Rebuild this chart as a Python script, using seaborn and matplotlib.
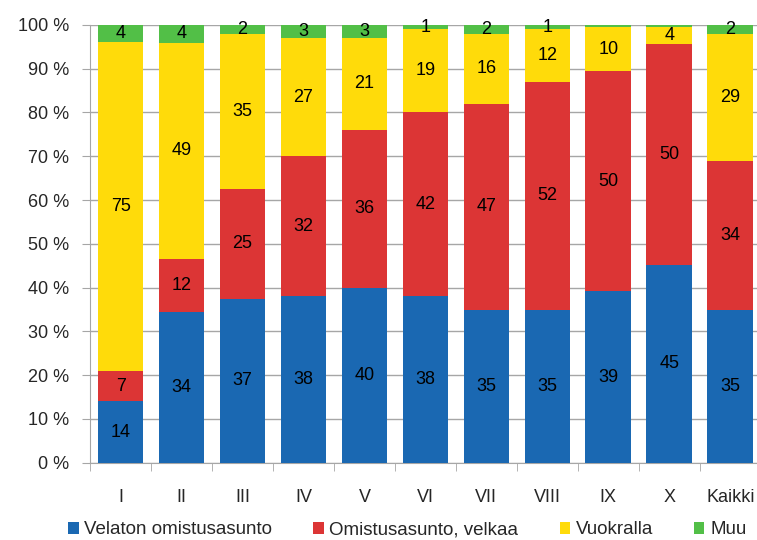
import numpy as np
import pandas as pd
import matplotlib.pyplot as plt
import seaborn as sns
from matplotlib.patches import Patch

# --- Data ---
categories = ["I", "II", "III", "IV", "V", "VI", "VII", "VIII", "IX", "X", "Kaikki"]
velaton = [14, 34, 37, 38, 40, 38, 35, 35, 39, 45, 35]
velkaa = [7, 12, 25, 32, 36, 42, 47, 52, 50, 50, 34]
vuokralla = [75, 49, 35, 27, 21, 19, 16, 12, 10, 4, 29]
muu = [4, 4, 2, 3, 3, 1, 2, 1, 0.6, 0.4, 2]

series_names = ["Velaton omistusasunto", "Omistusasunto, velkaa", "Vuokralla", "Muu"]
colors = ["#1a68b2", "#dc3535", "#ffdb0a", "#52bf47"]

df = pd.DataFrame({"cat": categories, series_names[0]: velaton, series_names[1]: velkaa,
                   series_names[2]: vuokralla, series_names[3]: muu})
totals = df[series_names].sum(axis=1)

sns.set_style("white")
plt.rcParams["font.family"] = ["Liberation Sans", "DejaVu Sans"]
FS = 13

fig, ax = plt.subplots(figsize=(7.57, 5.4), dpi=100)
fig.subplots_adjust(left=0.119, right=1.005, top=0.954, bottom=0.143)

bottom = np.zeros(len(categories))
for name, col in zip(series_names, colors):
    share = (df[name] / totals * 100).to_numpy()
    sns.barplot(x=df["cat"], y=share, bottom=bottom, color=col, width=0.75,
                linewidth=0, saturation=1, errorbar=None, ax=ax, zorder=3)
    cont = ax.containers[-1]
    labels = [f"{v:.0f}" if v >= 1 else "" for v in df[name]]
    ax.bar_label(cont, labels=labels, label_type="center", fontsize=FS, color="black")
    bottom += share

# --- Axes styling ---
ax.set_ylim(0, 100)
ax.set_xlim(-0.5, len(categories) - 0.5)
ax.set_yticks(range(0, 101, 10))
ax.set_yticklabels([f"{t} %" for t in range(0, 101, 10)], fontsize=FS)
ax.yaxis.grid(True, color="#a6a6a6", linewidth=1, zorder=0)
ax.set_axisbelow(True)
ax.tick_params(axis="y", length=6, color="#a6a6a6", left=True, pad=9)
ax.tick_params(axis="x", length=0, labelsize=FS, pad=19)
ax.set_xticks(np.arange(-0.5, len(categories), 1), minor=True)
ax.tick_params(axis="x", which="minor", length=6, color="#a6a6a6", bottom=True)
ax.set_xlabel("")
ax.set_ylabel("")
for s in ["top", "right"]:
    ax.spines[s].set_visible(False)
for s in ["left", "bottom"]:
    ax.spines[s].set_color("#a6a6a6")

handles = [Patch(facecolor=c, edgecolor="none") for c in colors]
fig.legend(handles, series_names, loc="center", bbox_to_anchor=(0.538, 1 - 530 / 540),
           ncol=4, frameon=False, fontsize=13.5, handlelength=0.55, handleheight=0.55,
           handletextpad=0.3, columnspacing=2.2, borderpad=0)

plt.savefig("out.png", dpi=100)
